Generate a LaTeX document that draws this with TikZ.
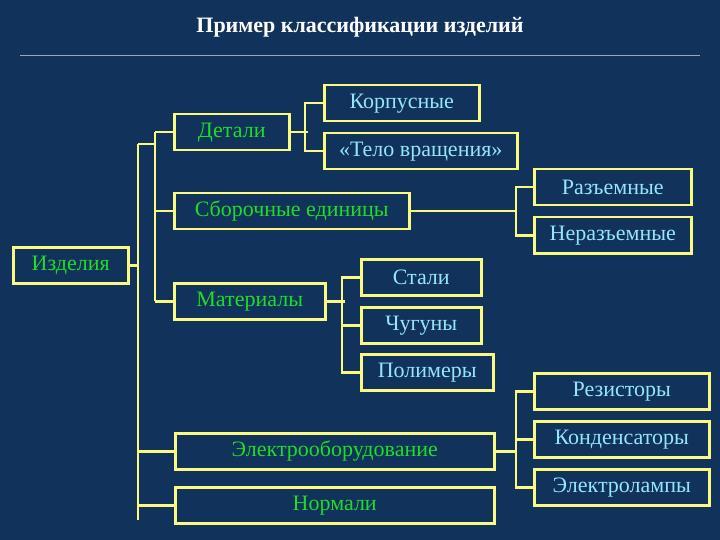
\documentclass[tikz,border=0pt]{standalone}
\usepackage{fontspec}
\setmainfont{Liberation Serif}
\begin{document}
\begin{tikzpicture}[x=1pt,y=-1pt,
  box/.style={draw=lineY, line width=2.5pt, anchor=north west, inner sep=0pt, minimum height=36pt, font=\fontsize{22}{26}\selectfont},
  g/.style={box, text=txtG},
  c/.style={box, text=txtC},
  conn/.style={draw=lineY, line width=2.5pt}]
\definecolor{bg}{RGB}{17,50,90}
\definecolor{lineY}{RGB}{250,250,130}
\definecolor{txtG}{RGB}{30,220,40}
\definecolor{txtC}{RGB}{150,230,250}
\fill[bg] (0,0) rectangle (720,540);
\useasboundingbox (0,0) rectangle (720,540);
\node[text=white, font=\bfseries\fontsize{22}{26}\selectfont] (title) at (360,27) {Пример классификации изделий};
\draw[gray!70, line width=0.8pt] (20,55) -- (700,55);
% level 0
\node[g, minimum width=115pt] (iz) at (12,246) {Изделия};
% level 1
\node[g, minimum width=115pt] (det) at (173,113) {Детали};
\node[g, minimum width=235pt] (sb) at (173,192) {Сборочные единицы};
\node[g, minimum width=151pt] (mat) at (173,282) {Материалы};
\node[g, minimum width=319pt] (el) at (174,432) {Электрооборудование};
\node[g, minimum width=319pt] (nor) at (174,486) {Нормали};
% level 2
\node[c, minimum width=155pt] (korp) at (323,84) {Корпусные};
\node[c, minimum width=193pt] (telo) at (323,132) {«Тело вращения»};
\node[c, minimum width=157pt] (raz) at (533,168) {Разъемные};
\node[c, minimum width=157pt] (neraz) at (533,216) {Неразъемные};
\node[c, minimum width=120pt] (stal) at (360,258) {Стали};
\node[c, minimum width=120pt] (chug) at (360,306) {Чугуны};
\node[c, minimum width=132pt] (pol) at (360,353) {Полимеры};
\node[c, minimum width=175pt] (rez) at (533,372) {Резисторы};
\node[c, minimum width=175pt] (kond) at (533,420) {Конденсаторы};
\node[c, minimum width=175pt] (lamp) at (533,468) {Электролампы};
% buses
\coordinate (busTop) at (138,144);
\coordinate (busBot) at (138,520);
\coordinate (ibTop) at (155,144);
\draw[conn] (iz.east) -- (iz.east -| busTop);
\draw[conn] (busTop) -- (busBot);
\draw[conn] (busTop) -- (ibTop);
\draw[conn] (det.west -| ibTop) -- (mat.west -| ibTop);
\draw[conn] (det.west) -- (det.west -| ibTop);
\draw[conn] (sb.west) -- (sb.west -| ibTop);
\draw[conn] (mat.west) -- (mat.west -| ibTop);
\draw[conn] (el.west) -- (el.west -| busTop);
\draw[conn] (nor.west) -- (nor.west -| busTop);
% detali
\draw[conn] (det.east) -- +(17,0);
\draw[conn] (korp.west) -- +(-18,0) |- (telo.west);
% sborochnye
\draw[conn] (sb.east) -- (sb.east -| 516,0);
\draw[conn] (raz.west) -- +(-17,0) |- (neraz.west);
% materialy
\draw[conn] (mat.east) -- +(18,0);
\draw[conn] (stal.west) -- +(-18,0) |- (pol.west);
\draw[conn] (chug.west) -- +(-18,0);
% elektro
\draw[conn] (el.east) -- (el.east -| 516,0);
\draw[conn] (rez.west) -- +(-17,0) |- (lamp.west);
\draw[conn] (kond.west) -- +(-17,0);
\end{tikzpicture}
\end{document}
